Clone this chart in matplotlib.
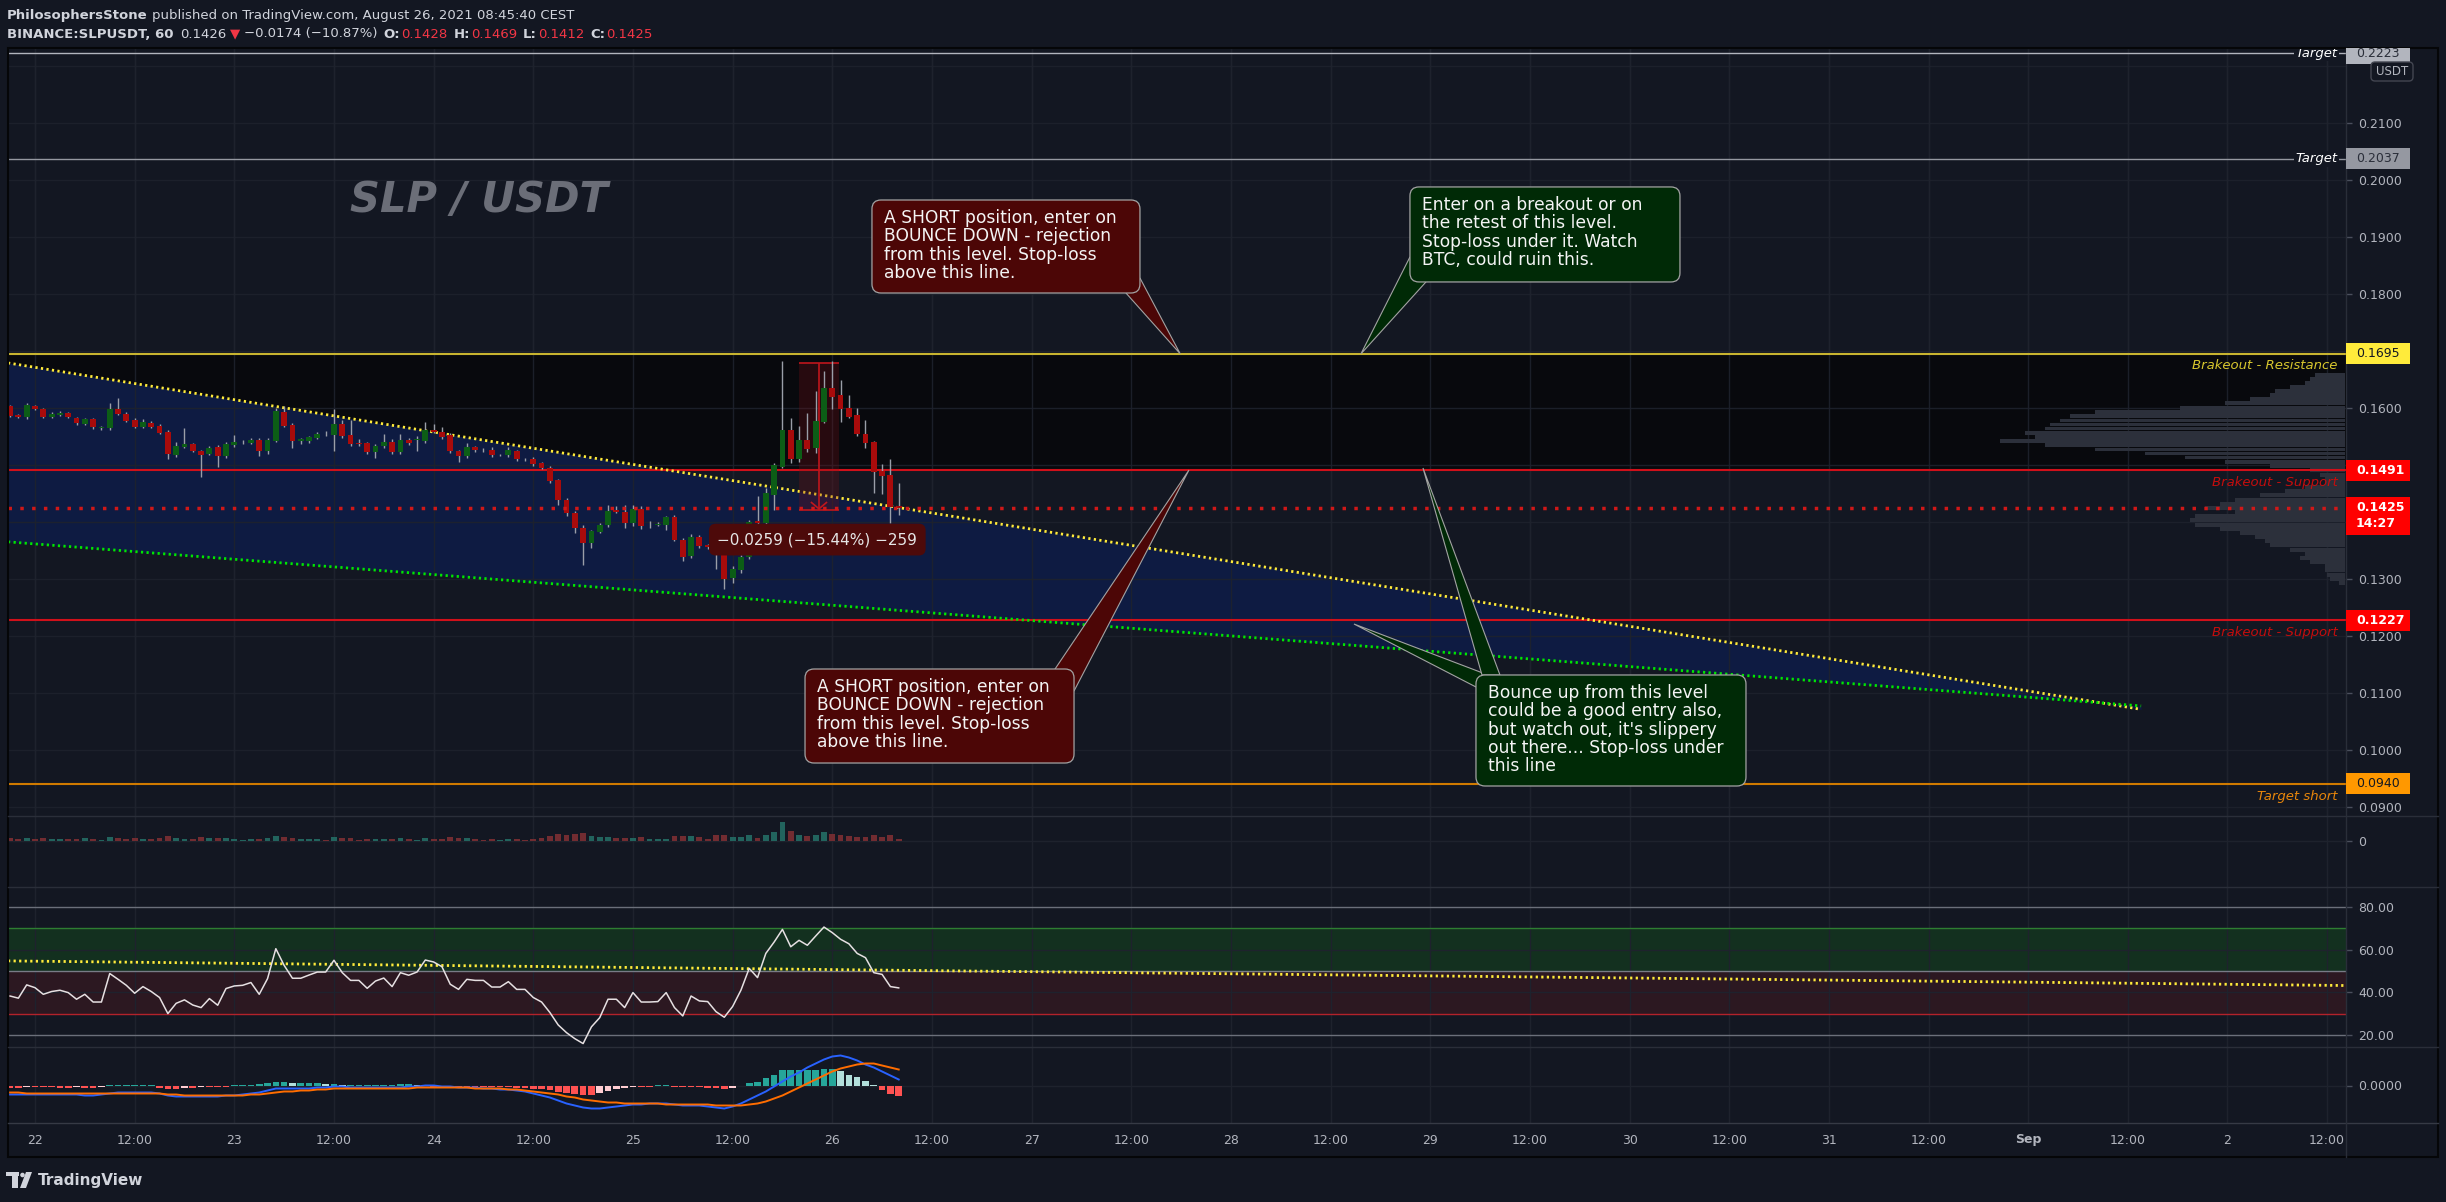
import numpy as np
import matplotlib
matplotlib.use('Agg')
import matplotlib.pyplot as plt
from matplotlib.patches import FancyBboxPatch, Polygon, Rectangle
from matplotlib.transforms import Bbox

plt.rcParams['font.family'] = ['DejaVu Sans']

W, H = 2446, 1202
BG = '#131722'
GRID = '#1e222d'
AXIS_TXT = '#b2b5be'
UP = '#0c5d16'
DOWN = '#a80b0b'

# ---------------- data (hourly candles, hours from Aug 22 00:00) ----------------
first_hour = -3   # first candle: Aug 21 21:00
opens = [
    0.1603, 0.1587, 0.1584, 0.1603, 0.1598, 0.1584, 0.1588, 0.1591, 0.1583, 0.1572,
    0.1580, 0.1565, 0.1565, 0.1599, 0.1589, 0.1579, 0.1567, 0.1574, 0.1568, 0.1558,
    0.1517, 0.1532, 0.1536, 0.1524, 0.1520, 0.1532, 0.1516, 0.1535, 0.1540, 0.1538,
    0.1544, 0.1525, 0.1542, 0.1593, 0.1570, 0.1542, 0.1542, 0.1548, 0.1553, 0.1552,
    0.1572, 0.1552, 0.1538, 0.1538, 0.1523, 0.1533, 0.1541, 0.1523, 0.1544, 0.1544,
    0.1542, 0.1562, 0.1558, 0.1552, 0.1524, 0.1516, 0.1531, 0.1527, 0.1527, 0.1517,
    0.1517, 0.1524, 0.1511, 0.1511, 0.1503, 0.1494, 0.1473, 0.1439, 0.1415, 0.1390,
    0.1363, 0.1383, 0.1394, 0.1421, 0.1418, 0.1398, 0.1422, 0.1394, 0.1395, 0.1394,
    0.1408, 0.1369, 0.1340, 0.1373, 0.1359, 0.1358, 0.1345, 0.1302, 0.1315, 0.1339,
    0.1402, 0.1398, 0.1447, 0.1497, 0.1562, 0.1510, 0.1543, 0.1530, 0.1575, 0.1635,
    0.1622, 0.1600, 0.1587, 0.1555, 0.1540, 0.1490, 0.1483, 0.1428]
highs = [
    0.1606, 0.1590, 0.1609, 0.1606, 0.1600, 0.1593, 0.1594, 0.1593, 0.1585, 0.1583,
    0.1582, 0.1569, 0.1609, 0.1617, 0.1593, 0.1582, 0.1580, 0.1577, 0.1571, 0.1561,
    0.1541, 0.1565, 0.1539, 0.1527, 0.1534, 0.1535, 0.1540, 0.1552, 0.1543, 0.1547,
    0.1547, 0.1548, 0.1600, 0.1604, 0.1574, 0.1548, 0.1551, 0.1557, 0.1560, 0.1599,
    0.1579, 0.1579, 0.1545, 0.1540, 0.1537, 0.1555, 0.1545, 0.1554, 0.1548, 0.1550,
    0.1576, 0.1571, 0.1566, 0.1556, 0.1527, 0.1538, 0.1533, 0.1530, 0.1531, 0.1520,
    0.1532, 0.1527, 0.1513, 0.1514, 0.1505, 0.1498, 0.1475, 0.1442, 0.1420, 0.1394,
    0.1386, 0.1398, 0.1429, 0.1428, 0.1430, 0.1430, 0.1428, 0.1402, 0.1400, 0.1410,
    0.1412, 0.1372, 0.1378, 0.1377, 0.1362, 0.1362, 0.1348, 0.1322, 0.1342, 0.1403,
    0.1445, 0.1460, 0.1503, 0.1682, 0.1582, 0.1568, 0.1591, 0.1630, 0.1665, 0.1682,
    0.1649, 0.1623, 0.1600, 0.1579, 0.1542, 0.1502, 0.1511, 0.1469]
lows = [
    0.1584, 0.1582, 0.1581, 0.1596, 0.1582, 0.1582, 0.1586, 0.1582, 0.1570, 0.1570,
    0.1563, 0.1562, 0.1561, 0.1587, 0.1575, 0.1565, 0.1565, 0.1565, 0.1554, 0.1511,
    0.1514, 0.1530, 0.1523, 0.1479, 0.1518, 0.1497, 0.1512, 0.1532, 0.1537, 0.1536,
    0.1516, 0.1519, 0.1540, 0.1567, 0.1530, 0.1537, 0.1539, 0.1545, 0.1550, 0.1525,
    0.1548, 0.1534, 0.1533, 0.1519, 0.1513, 0.1530, 0.1520, 0.1520, 0.1535, 0.1524,
    0.1539, 0.1556, 0.1546, 0.1521, 0.1505, 0.1513, 0.1522, 0.1523, 0.1514, 0.1515,
    0.1514, 0.1507, 0.1507, 0.1499, 0.1492, 0.1469, 0.1430, 0.1410, 0.1380, 0.1324,
    0.1355, 0.1380, 0.1391, 0.1416, 0.1390, 0.1392, 0.1388, 0.1390, 0.1392, 0.1385,
    0.1367, 0.1332, 0.1336, 0.1355, 0.1352, 0.1318, 0.1283, 0.1292, 0.1310, 0.1335,
    0.1394, 0.1392, 0.1421, 0.1495, 0.1503, 0.1506, 0.1522, 0.1521, 0.1573, 0.1598,
    0.1576, 0.1583, 0.1550, 0.1530, 0.1451, 0.1449, 0.1398, 0.1412]
closes = [
    0.1586, 0.1584, 0.1605, 0.1598, 0.1584, 0.1590, 0.1591, 0.1584, 0.1573, 0.1580,
    0.1566, 0.1567, 0.1599, 0.1589, 0.1577, 0.1567, 0.1576, 0.1567, 0.1556, 0.1520,
    0.1533, 0.1536, 0.1525, 0.1517, 0.1530, 0.1516, 0.1536, 0.1541, 0.1541, 0.1544,
    0.1525, 0.1544, 0.1594, 0.1569, 0.1542, 0.1545, 0.1549, 0.1554, 0.1552, 0.1572,
    0.1551, 0.1536, 0.1536, 0.1523, 0.1534, 0.1540, 0.1523, 0.1544, 0.1538, 0.1546,
    0.1561, 0.1558, 0.1549, 0.1524, 0.1516, 0.1531, 0.1526, 0.1526, 0.1517, 0.1518,
    0.1526, 0.1510, 0.1510, 0.1501, 0.1494, 0.1472, 0.1438, 0.1415, 0.1390, 0.1363,
    0.1384, 0.1394, 0.1419, 0.1418, 0.1398, 0.1422, 0.1393, 0.1395, 0.1397, 0.1408,
    0.1369, 0.1339, 0.1373, 0.1358, 0.1356, 0.1345, 0.1299, 0.1318, 0.1339, 0.1400,
    0.1398, 0.1451, 0.1500, 0.1562, 0.1510, 0.1543, 0.1528, 0.1577, 0.1635, 0.1620,
    0.1598, 0.1585, 0.1555, 0.1539, 0.1488, 0.1481, 0.1427, 0.1425]
volume = [
    1.2, 0.8, 1.4, 0.9, 1.1, 0.7, 0.8, 0.9, 1.0, 1.1,
    1.0, 0.6, 1.8, 1.4, 1.0, 1.1, 0.9, 0.8, 1.2, 2.0,
    1.3, 0.9, 1.0, 1.6, 1.1, 1.2, 1.2, 0.8, 0.6, 0.7,
    1.0, 1.1, 2.2, 1.6, 1.4, 0.8, 0.7, 0.7, 0.5, 1.5,
    1.3, 1.1, 0.6, 1.0, 0.9, 0.8, 1.0, 1.1, 0.7, 0.6,
    1.3, 0.8, 0.9, 1.6, 1.2, 1.2, 0.8, 0.5, 0.9, 0.5,
    0.8, 1.0, 0.6, 1.0, 1.2, 2.0, 2.8, 2.6, 2.9, 3.4,
    2.2, 1.6, 1.8, 1.1, 1.3, 1.4, 1.6, 0.8, 0.7, 1.0,
    2.0, 2.2, 1.9, 1.5, 0.9, 2.4, 2.6, 1.8, 1.5, 2.5,
    1.4, 2.6, 3.8, 7.8, 4.0, 2.5, 2.2, 2.4, 3.6, 2.8,
    2.6, 2.0, 1.6, 1.8, 2.4, 1.5, 2.6, 0.9]
rsi = [
    38.3, 37.3, 43.5, 42.2, 39.1, 40.4, 41.0, 39.9, 36.8, 39.1,
    35.5, 35.5, 48.8, 46.1, 43.3, 39.6, 42.7, 40.4, 37.6, 30.1,
    34.9, 36.5, 34.1, 32.9, 37.1, 34.0, 41.8, 43.0, 43.3, 44.6,
    39.1, 46.4, 60.4, 52.6, 46.6, 46.6, 48.1, 49.5, 49.5, 55.0,
    49.2, 45.6, 45.6, 41.9, 45.3, 46.7, 42.7, 49.2, 48.0, 49.5,
    55.1, 54.2, 52.0, 43.8, 41.4, 46.1, 45.6, 45.6, 42.5, 42.5,
    45.0, 41.4, 41.4, 37.6, 35.5, 30.6, 24.8, 21.2, 18.4, 16.1,
    23.9, 28.2, 36.8, 36.8, 32.9, 39.9, 35.5, 35.5, 35.7, 39.9,
    32.9, 29.0, 38.3, 36.0, 35.7, 31.0, 28.4, 33.4, 41.0, 51.2,
    46.9, 58.2, 63.5, 69.4, 61.3, 64.3, 62.0, 66.3, 70.5, 67.9,
    64.8, 62.7, 58.2, 56.2, 49.2, 48.4, 42.7, 42.1]
# MACD values in units of 0.0001
macd = [
    -9, -9, -9, -9, -9, -9, -9, -9, -9, -10,
    -10, -9, -8, -7, -7, -7, -7, -7, -8, -10,
    -11, -11, -11, -11, -11, -11, -10, -10, -9, -8,
    -7, -5, -3, -3, -3, -3, -3, -2, -2, -1,
    -1, -2, -2, -2, -2, -2, -2, -2, -1, -1,
    0, 0, -1, -1, -2, -2, -2, -3, -3, -4,
    -4, -5, -6, -8, -10, -12, -15, -18, -20, -22,
    -23, -23, -22, -21, -20, -19, -19, -18, -18, -18,
    -19, -20, -20, -20, -21, -22, -23, -21, -18, -14,
    -10, -6, -1, 4, 9, 13, 18, 22, 26, 29,
    30, 28, 25, 21, 18, 14, 10, 6]
signal = [
    -7, -7, -8, -8, -8, -8, -8, -8, -8, -8,
    -8, -8, -8, -8, -8, -8, -8, -8, -8, -9,
    -9, -10, -10, -10, -10, -10, -10, -10, -10, -9,
    -9, -8, -7, -6, -6, -5, -5, -4, -4, -3,
    -3, -3, -3, -3, -3, -3, -3, -3, -3, -2,
    -2, -2, -2, -2, -2, -2, -3, -3, -3, -3,
    -4, -4, -5, -6, -7, -8, -9, -11, -12, -14,
    -15, -16, -17, -17, -18, -18, -18, -18, -18, -19,
    -19, -19, -19, -19, -19, -20, -20, -20, -20, -19,
    -18, -16, -13, -10, -6, -2, 2, 6, 10, 14,
    17, 19, 21, 22, 22, 20, 18, 16]
hist = [
    -2, -2, -1, -1, -1, -1, -2, -2, -1, -2,
    -2, -1, 1, 1, 1, 1, 1, 1, -2, -3,
    -3, -2, -2, -1, -1, -1, -1, 1, 1, 1,
    2, 3, 4, 4, 3, 3, 3, 3, 2, 2,
    1, 1, 1, 1, 1, 1, 1, 2, 2, 1,
    1, -1, -1, -1, -1, -1, -1, -1, -1, -1,
    -1, -2, -2, -3, -3, -4, -6, -7, -8, -9,
    -9, -7, -5, -3, -2, -1, -1, -1, 1, 1,
    -1, -1, -1, -1, -2, -2, -3, -2, 0, 3,
    4, 8, 11, 16, 16, 16, 16, 16, 17, 17,
    15, 11, 9, 5, 1, -4, -8, -10]

# trend lines (hour, price)
trend_x = [-3.25, 253.6]
trend_upper = [0.1679, 0.1071]
trend_lower = [0.1365, 0.1077]
rsi_trend_x = [-3.25, 278.3]
rsi_trend_y = [54.7, 43.2]

# horizontal levels
levels = [0.2223, 0.2037, 0.1695, 0.1491, 0.1227, 0.0940]
level_names = ['Target', 'Target', 'Brakeout - Resistance', 'Brakeout - Support',
               'Brakeout - Support', 'Target short']
last_price = 0.1425
countdown = '14:27'

# visible range volume profile (price row, relative volume)
vp_price = [0.1658, 0.1651, 0.1644, 0.1637, 0.1630, 0.1622, 0.1615, 0.1608, 0.1600, 0.1593,
            0.1586, 0.1578, 0.1571, 0.1564, 0.1556, 0.1549, 0.1542, 0.1535, 0.1527, 0.1520,
            0.1513, 0.1505, 0.1498, 0.1491, 0.1483, 0.1476, 0.1469, 0.1461, 0.1454, 0.1447,
            0.1439, 0.1432, 0.1425, 0.1417, 0.1410, 0.1403, 0.1395, 0.1388, 0.1381, 0.1373,
            0.1366, 0.1359, 0.1351, 0.1344, 0.1337, 0.1329, 0.1322, 0.1315, 0.1307, 0.1300,
            0.1293]
vp_vol = [30, 35, 40, 55, 70, 75, 95, 120, 165, 250,
          275, 285, 295, 300, 320, 310, 345, 300, 250, 200,
          160, 120, 75, 35, 25, 20, 20, 40, 60, 85,
          110, 125, 140, 110, 150, 155, 150, 125, 105, 90,
          80, 75, 55, 40, 45, 35, 20, 20, 18, 15,
          6]

# measure tool
meas_x = [92.0, 96.8]
meas_p = [0.1421, 0.1679]
meas_label = '\u22120.0259 (\u221215.44%) \u2212259'

day_labels = ['22', '12:00', '23', '12:00', '24', '12:00', '25', '12:00', '26', '12:00',
              '27', '12:00', '28', '12:00', '29', '12:00', '30', '12:00', '31', '12:00',
              'Sep', '12:00', '2', '12:00']

X0, X1 = -3.25, 278.27

# ---------------- figure / panes ----------------
fig = plt.figure(figsize=(W / 100, H / 100), dpi=100, facecolor=BG)


def pane(top, bottom):
    a = fig.add_axes([8 / W, 1 - bottom / H, 2338 / W, (bottom - top) / H])
    a.set_facecolor(BG)
    for s in a.spines.values():
        s.set_visible(False)
    a.set_xlim(X0, X1)
    a.tick_params(axis='x', bottom=False, labelbottom=False)
    a.yaxis.tick_right()
    a.tick_params(axis='y', right=True, left=False, length=4, width=1, color='#4a4f5c',
                  labelcolor=AXIS_TXT, labelsize=9, pad=5)
    return a


ax = pane(48, 816)
axv = pane(816, 887)
axr = pane(887, 1047)
axm = pane(1047, 1123)

ax.set_ylim(0.08838, 0.22318)
axv.set_ylim(-18.4, 10)
axr.set_ylim(14.5, 89.2)
axm.set_ylim(-37.5, 38.5)

tick_hours = list(range(0, 277, 12))
for a in (ax, axv, axr, axm):
    for t in tick_hours:
        a.axvline(t, color=GRID, lw=1, zorder=0.2)

# ---------------- main pane ----------------
hours = np.arange(len(opens)) + first_hour
o = np.array(opens); c = np.array(closes)
up = c >= o

ax.axhspan(0.1491, 0.1695, color='#08090d', zorder=0.5, lw=0)
ax.fill_between(trend_x, trend_lower, trend_upper, color='#0e1b42', zorder=0.8, lw=0)
for p in [0.09, 0.10, 0.11, 0.12, 0.13, 0.14, 0.15, 0.16, 0.17, 0.18, 0.19, 0.20, 0.21, 0.22]:
    ax.axhline(p, color=GRID, lw=1, zorder=1.0, alpha=0.9)
for t in tick_hours:
    ax.axvline(t, color=GRID, lw=1, zorder=1.0, alpha=0.9)

# volume profile anchored at right edge
vp_right = X1 - 0.1
vp_w = np.array(vp_vol) / 8.305
ax.barh(vp_price, vp_w, left=vp_right - vp_w, height=0.00068, color='#2c303b', zorder=1.2, lw=0)

price_ticks = [0.09, 0.10, 0.11, 0.12, 0.13, 0.16, 0.18, 0.19, 0.20, 0.21]
ax.set_yticks(price_ticks)
ax.set_yticklabels([f'{v:.4f}' for v in price_ticks])

level_colors = ['#b2b5be', '#9598a1', '#c8b430', '#d0101a', '#d0101a', '#d07a00']
label_colors = ['#ffffff', '#ffffff', '#d8c72e', '#c40d0d', '#c40d0d', '#e8860a']
for lv, name, lc, tc in zip(levels, level_names, level_colors, label_colors):
    ax.axhline(lv, color=lc, lw=1.0 if name == 'Target' else 1.5, zorder=2)
    if name == 'Target':
        ax.text(X1 - 1.0, lv, name, color=tc, fontsize=9.5, style='italic', ha='right', va='center',
                zorder=2.5, clip_on=True, bbox=dict(fc=BG, ec='none', pad=1.0))
    else:
        ax.annotate(name, xy=(X1 - 1.0, lv), xytext=(0, -4), textcoords='offset points',
                    color=tc, fontsize=9.5, style='italic', ha='right', va='top', zorder=2.5)

ax.plot(trend_x, trend_upper, color='#ffeb3b', lw=2, ls=(0, (0.8, 1.2)), zorder=3)
ax.plot(trend_x, trend_lower, color='#00e600', lw=2, ls=(0, (0.8, 1.2)), zorder=3)

# measure tool
ax.add_patch(Rectangle((meas_x[0], meas_p[0]), meas_x[1] - meas_x[0], meas_p[1] - meas_p[0],
                       fc='#7a1016', alpha=0.28, ec='none', zorder=3.2))
mid = (meas_x[0] + meas_x[1]) / 2
ax.hlines(meas_p, meas_x[0], meas_x[1], color='#c0161c', lw=1.2, zorder=3.3)
ax.vlines(mid, meas_p[0], meas_p[1], color='#c0161c', lw=1.2, zorder=3.3)
ax.plot([mid - 0.9, mid, mid + 0.9], [meas_p[0] + 0.0013, meas_p[0] + 0.0002, meas_p[0] + 0.0013],
        color='#c0161c', lw=1.2, zorder=3.3)

# candles
ax.vlines(hours, lows, highs, color='#9a9ea8', lw=1, zorder=4)
body_bot = np.minimum(o, c)
body_h = np.maximum(np.abs(c - o), 0.00006)
ax.bar(hours, body_h, bottom=body_bot, width=0.7, color=np.where(up, UP, DOWN), zorder=5, lw=0)

ax.axhline(last_price, color='#d01818', lw=2.5, ls=(0, (1, 2.4)), zorder=6)

ax.text(mid - 0.2, 0.1369, meas_label, ha='center', va='center', fontsize=11, color='#e6e6e6', zorder=7,
        bbox=dict(boxstyle='round,pad=0.55,rounding_size=0.45', fc='#4d0a0a', ec='none'))

ax.text(53.5, 0.1965, 'SLP / USDT', fontsize=30, fontweight='bold', style='italic', color='#6b6e78',
        ha='center', va='center', zorder=2)

# ---------------- volume pane ----------------
axv.bar(hours, volume, width=0.7, color=np.where(up, '#22645e', '#722c31'), zorder=2, lw=0)
axv.axhline(0, color=GRID, lw=1, zorder=0.3)
axv.set_yticks([0])
axv.set_yticklabels(['0'])

# ---------------- RSI pane ----------------
axr.axhspan(50, 70, color='#13301f', zorder=0.1, lw=0)
axr.axhspan(30, 50, color='#2c1821', zorder=0.1, lw=0)
for lv in (40, 60):
    axr.axhline(lv, color=GRID, lw=1, zorder=0.3)
axr.axhline(70, color='#2e7d32', lw=1, zorder=1)
axr.axhline(50, color='#787b86', lw=1, zorder=1)
axr.axhline(30, color='#b3222b', lw=1, zorder=1)
axr.axhline(80, color='#6b6f7a', lw=1, zorder=1)
axr.axhline(20, color='#6b6f7a', lw=1, zorder=1)
axr.plot(rsi_trend_x, rsi_trend_y, color='#ffeb3b', lw=2, ls=(0, (0.8, 1.2)), zorder=2)
axr.plot(hours, rsi, color='#e6e0e2', lw=1.1, zorder=3)
axr.set_yticks([20, 40, 60, 80])
axr.set_yticklabels(['20.00', '40.00', '60.00', '80.00'])

# ---------------- MACD pane ----------------
hist_a = np.array(hist)
prev = np.concatenate([[0], hist_a[:-1]])
hcol = np.where(hist_a >= 0, np.where(hist_a >= prev, '#26a69a', '#b2dfdb'),
                np.where(hist_a <= prev, '#ff5252', '#ffcdd2'))
axm.axhline(0, color=GRID, lw=1, zorder=0.3)
axm.bar(hours, hist_a, width=0.8, color=hcol, zorder=2, lw=0)
axm.plot(hours, macd, color='#2962ff', lw=1.4, zorder=3)
axm.plot(hours, signal, color='#ff6d00', lw=1.4, zorder=3)
axm.set_yticks([0])
axm.set_yticklabels(['0.0000'])

# ---------------- overlay (pixel coordinates, origin bottom-left) ----------------
ov = fig.add_axes([0, 0, 1, 1], zorder=20)
ov.set_xlim(0, W)
ov.set_ylim(0, H)
ov.axis('off')


def T(y_top):
    return H - y_top


# separators and frame
for y in (816, 887, 1047):
    ov.plot([8, 2438], [T(y), T(y)], color='#2a2e39', lw=1)
ov.plot([8, 2438], [T(1123), T(1123)], color='#363a45', lw=1)
ov.plot([2346, 2346], [T(48), T(1157)], color='#2a2e39', lw=1)
ov.add_patch(Rectangle((8, T(1157)), 2430, 1157 - 48, fill=False, ec='#050608', lw=1.5))

# x axis labels
for t, lab in zip(tick_hours, day_labels):
    xd, _ = axm.transData.transform((t, 0))
    ov.text(xd, T(1140), lab, color=AXIS_TXT, fontsize=9, ha='center', va='center',
            fontweight='bold' if lab == 'Sep' else 'normal')

# price tags on the right axis
axis_clip = Bbox([[2346, T(1157)], [2438, T(48)]])


def price_tag(value, text, fc, tc, bold=False, sub=None):
    _, yd = ax.transData.transform((0, value))
    hgt = 21 if sub is None else 38
    r = Rectangle((2346, yd + 10.5 - hgt), 64, hgt, fc=fc, ec='none', zorder=5)
    ov.add_patch(r)
    r.set_clip_box(axis_clip)
    t1 = ov.text(2356, yd, text, color=tc, fontsize=9, fontweight='bold' if bold else 'normal',
                 ha='left', va='center', zorder=6)
    t1.set_clip_box(axis_clip)
    t1.set_clip_on(True)
    if sub:
        ov.text(2356, yd - 16, sub, color=tc, fontsize=9, fontweight='bold' if bold else 'normal',
                ha='left', va='center', zorder=6)


tag_style = [('#b2b5be', '#2a2e39', False), ('#9598a1', '#2a2e39', False), ('#ffeb3b', '#131722', False),
             ('#ff0000', '#ffffff', True), ('#ff0000', '#ffffff', True), ('#ff9800', '#131722', False)]
for lv, (fc, tc, b) in zip(levels, tag_style):
    price_tag(lv, f'{lv:.4f}', fc, tc, b)
price_tag(last_price, f'{last_price:.4f}', '#ff0000', '#ffffff', True, sub=countdown)

ov.add_patch(FancyBboxPatch((2371, T(81)), 42, 19, boxstyle='round,pad=0,rounding_size=4',
                            fc=BG, ec='#434651', lw=1, zorder=7))
ov.text(2392, T(71.5), 'USDT', color=AXIS_TXT, fontsize=8.5, ha='center', va='center', zorder=8)

# callouts: box top-left (hour, price), size px, tips (hour, price) with base offsets px
callouts = [
    dict(text='A SHORT position, enter on\nBOUNCE DOWN - rejection\nfrom this level. Stop-loss\nabove this line.',
         fc='#4c0606', box=(100.78, 0.19650), size=(268, 93),
         tips=[((137.9, 0.1695), (254, 93), (268, 78))]),
    dict(text='Enter on a breakout or on\nthe retest of this level.\nStop-loss under it. Watch\nBTC, could ruin this.',
         fc='#002a06', box=(165.56, 0.19879), size=(270, 95),
         tips=[((159.66, 0.1695), (0, 70), (16, 95))]),
    dict(text='A SHORT position, enter on\nBOUNCE DOWN - rejection\nfrom this level. Stop-loss\nabove this line.',
         fc='#4c0606', box=(92.72, 0.11418), size=(269, 94),
         tips=[((138.95, 0.1491), (250, 0), (269, 22))]),
    dict(text="Bounce up from this level\ncould be a good entry also,\nbut watch out, it's slippery\nout there... Stop-loss under\nthis line",
         fc='#002a06', box=(173.51, 0.11313), size=(270, 111),
         tips=[((158.82, 0.12208), (0, 12), (12, 0)), ((167.13, 0.14946), (6, 0), (24, 0))]),
]
for co in callouts:
    bx, by = ax.transData.transform(co['box'])
    w, h = co['size']
    for tip, b1, b2 in co['tips']:
        tx, ty = ax.transData.transform(tip)
        ov.add_patch(Polygon([(tx, ty), (bx + b1[0], by - b1[1]), (bx + b2[0], by - b2[1])], closed=True,
                             fc=co['fc'], ec='#a3a3a3', lw=0.8, zorder=8))
    ov.add_patch(FancyBboxPatch((bx, by - h), w, h, boxstyle='round,pad=0,rounding_size=9',
                                fc=co['fc'], ec='#a3a3a3', lw=0.9, zorder=9))
    ov.text(bx + 12, by - 9, co['text'], color='#f4f4f4', fontsize=12.3, ha='left', va='top',
            linespacing=1.02, zorder=10)

# header
renderer = fig.canvas.get_renderer()


def text_run(x, y_top, pieces, size=9.5):
    for s, color, weight, gap in pieces:
        t = ov.text(x, T(y_top), s, color=color, fontsize=size, fontweight=weight, ha='left', va='center')
        x += t.get_window_extent(renderer=renderer).width + gap


HDR = '#d1d4dc'
RED = '#f23645'
text_run(7, 15, [('PhilosophersStone', HDR, 'bold', 4),
                 ('published on TradingView.com, August 26, 2021 08:45:40 CEST', HDR, 'normal', 0)])
text_run(7, 34, [('BINANCE:SLPUSDT, 60', HDR, 'bold', 7), ('0.1426', HDR, 'normal', 3),
                 ('\u25bc', RED, 'normal', 4), ('\u22120.0174 (\u221210.87%)', HDR, 'normal', 6),
                 ('O:', HDR, 'bold', 1), ('0.1428', RED, 'normal', 6),
                 ('H:', HDR, 'bold', 1), ('0.1469', RED, 'normal', 6),
                 ('L:', HDR, 'bold', 1), ('0.1412', RED, 'normal', 6),
                 ('C:', HDR, 'bold', 1), ('0.1425', RED, 'normal', 0)])

# footer logo
ov.add_patch(Rectangle((6, T(1176)), 13, 4, fc='#d1d4dc', ec='none'))
ov.add_patch(Rectangle((12, T(1188)), 6, 16, fc='#d1d4dc', ec='none'))
ov.add_patch(Polygon([(20, T(1188)), (26, T(1188)), (32, T(1172)), (26, T(1172))], fc='#d1d4dc', ec='none'))
ov.add_patch(plt.Circle((22.5, T(1175)), 2.3, fc='#d1d4dc', ec='none'))
ov.text(38, T(1181), 'TradingView', color='#d1d4dc', fontsize=11, fontweight='bold', ha='left', va='center')

fig.savefig('out.png', dpi=100, facecolor=BG)
